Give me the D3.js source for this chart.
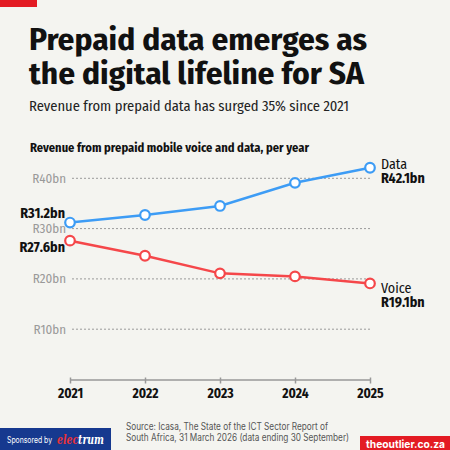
<!DOCTYPE html>
<html>
<head>
<meta charset="utf-8">
<script src="https://cdn.jsdelivr.net/npm/d3@7"></script>
<style>
  body { margin: 0; background: #f4f4f0; }
  svg { display: block; }
</style>
</head>
<body>
<svg id="chart" width="450" height="450"></svg>
<script>
const years = [2021, 2022, 2023, 2024, 2025]
const dataRevenue = [31.2, 32.7, 34.5, 39.1, 42.1]
const voiceRevenue = [27.6, 24.6, 21.1, 20.5, 19.1]
const yTicks = [10, 20, 30, 40]

const condensed = '"Fira Sans Condensed","Liberation Sans Narrow","DejaVu Sans Condensed",sans-serif'
const plain = 'Inter, Roboto, "Liberation Sans", sans-serif'
const blue = "#3d9cf5", red = "#f5474a"

const svg = d3.select("#chart")
svg.append("rect").attr("width", 450).attr("height", 450).attr("fill", "#f4f4f0")
svg.append("rect").attr("x", 0).attr("y", 0).attr("width", 37).attr("height", 7).attr("fill", "#e31b23")

// stretch / squeeze text to the width seen in the picture
function fit(sel, w) {
  sel.attr("textLength", w).attr("lengthAdjust", "spacingAndGlyphs")
  return sel
}

fit(svg.append("text").attr("x", 29).attr("y", 50).attr("font-family", condensed).attr("font-weight", 700)
  .attr("font-size", 31).attr("fill", "#111").text("Prepaid data emerges as"), 338)
fit(svg.append("text").attr("x", 29).attr("y", 84).attr("font-family", condensed).attr("font-weight", 700)
  .attr("font-size", 31).attr("fill", "#111").text("the digital lifeline for SA"), 335)
fit(svg.append("text").attr("x", 29).attr("y", 111).attr("font-family", condensed)
  .attr("font-size", 15).attr("fill", "#222").text("Revenue from prepaid data has surged 35% since 2021"), 320)
fit(svg.append("text").attr("x", 30).attr("y", 152).attr("font-family", condensed).attr("font-weight", 700)
  .attr("font-size", 12.5).attr("fill", "#111").text("Revenue from prepaid mobile voice and data, per year"), 279)

const x = d3.scalePoint().domain(years).range([70, 370])
const y = d3.scaleLinear().domain([0, 40]).range([379.5, 178.3])

// grid + y labels
const grid = svg.append("g")
grid.selectAll("line").data(yTicks).join("line")
  .attr("x1", 72).attr("x2", 370).attr("y1", d => y(d)).attr("y2", d => y(d))
  .attr("stroke", "#9a9a9a").attr("stroke-width", 1).attr("stroke-dasharray", "2,2")
grid.selectAll("text").data(yTicks).join("text")
  .attr("x", 66).attr("y", d => y(d) + 4.5).attr("text-anchor", "end")
  .attr("font-family", condensed).attr("font-size", 13).attr("fill", "#999")
  .text(d => "R" + d + "bn")

// x axis
const xAxis = svg.append("g").attr("transform", "translate(0," + y(0) + ")")
  .call(d3.axisBottom(x).tickSize(4).tickSizeOuter(0).tickPadding(5))
xAxis.select(".domain").attr("stroke", "#999").attr("stroke-width", 1.5)
xAxis.selectAll(".tick line").attr("stroke", "#999").attr("stroke-width", 1.5).attr("y1", -2)
xAxis.selectAll(".tick text").attr("font-family", condensed).attr("font-weight", 700)
  .attr("font-size", 13.5).attr("fill", "#111")

const line = d3.line().x((d, i) => x(years[i])).y(d => y(d))
function series(vals, color) {
  svg.append("path").attr("d", line(vals)).attr("fill", "none").attr("stroke", color).attr("stroke-width", 2.5)
  svg.append("g").selectAll("circle").data(vals).join("circle")
    .attr("cx", (d, i) => x(years[i])).attr("cy", d => y(d)).attr("r", 4.8)
    .attr("fill", "#fff").attr("stroke", color).attr("stroke-width", 2.2)
}
series(dataRevenue, blue)
series(voiceRevenue, red)

// value labels
function label(tx, ty, txt, bold, anchor) {
  return svg.append("text").attr("x", tx).attr("y", ty).attr("text-anchor", anchor || "start")
    .attr("font-family", condensed).attr("font-weight", bold ? 700 : 400).attr("font-size", 14)
    .attr("fill", "#111").text(txt)
}
const first = 0, last = years.length - 1
label(65, y(dataRevenue[first]) - 4.6, "R" + dataRevenue[first] + "bn", true, "end")
label(65, y(voiceRevenue[first]) + 11, "R" + voiceRevenue[first] + "bn", true, "end")
label(381, y(dataRevenue[last]) + 1, "Data", false)
label(381, y(dataRevenue[last]) + 15, "R" + dataRevenue[last] + "bn", true)
label(381, y(voiceRevenue[last]) + 9.5, "Voice", false)
label(381, y(voiceRevenue[last]) + 23.5, "R" + voiceRevenue[last] + "bn", true)

// source
fit(svg.append("text").attr("x", 126).attr("y", 430).attr("font-family", plain).attr("font-size", 10)
  .attr("fill", "#555").text("Source: Icasa, The State of the ICT Sector Report of"), 202)
fit(svg.append("text").attr("x", 126).attr("y", 441).attr("font-family", plain).attr("font-size", 10)
  .attr("fill", "#555").text("South Africa, 31 March 2026 (data ending 30 September)"), 223)

// footer: sponsor
svg.append("rect").attr("x", 0).attr("y", 428).attr("width", 111).attr("height", 22).attr("fill", "#16398f")
fit(svg.append("text").attr("x", 7).attr("y", 443).attr("font-family", plain).attr("font-size", 8.5)
  .attr("fill", "#fff").text("Sponsored by"), 45)
const logo = svg.append("text").attr("x", 57).attr("y", 444).attr("font-family", '"DejaVu Serif", serif')
  .attr("font-style", "italic").attr("font-weight", 700).attr("font-size", 13)
logo.append("tspan").attr("fill", "#e8323a").text("elec")
logo.append("tspan").attr("fill", "#fff").text("trum")
fit(logo, 47)

// footer: brand
svg.append("rect").attr("x", 360).attr("y", 436).attr("width", 90).attr("height", 14).attr("fill", "#e31b23")
fit(svg.append("text").attr("x", 366).attr("y", 447.5).attr("font-family", plain)
  .attr("font-weight", 700).attr("font-size", 11).attr("fill", "#fff").text("theoutlier.co.za"), 79)
</script>
</body>
</html>
